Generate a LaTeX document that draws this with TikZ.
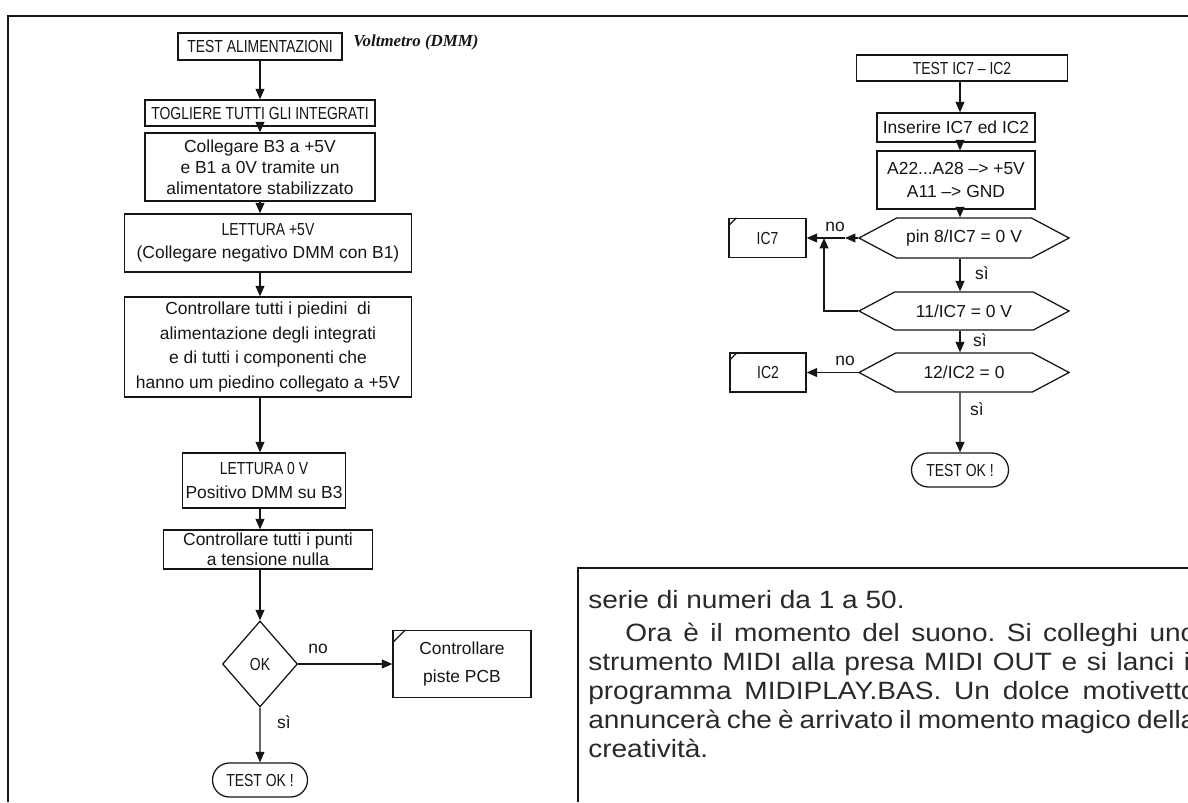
\documentclass[tikz,border=0pt]{standalone}
\usepackage{fontspec}
\newfontfamily\fontSchema{Liberation Sans}
\newfontfamily\fontMaiusc[FakeStretch=0.8]{Liberation Sans}
\newfontfamily\fontTesto[FakeStretch=1.12]{Liberation Sans}
\newfontfamily\fontNota{Liberation Serif}
\usetikzlibrary{arrows.meta, positioning, shapes.geometric, shapes.misc,
                shapes.symbols}
\definecolor{inchiostro}{HTML}{161616}
\definecolor{grigioscuro}{HTML}{2A2A2A}
\colorlet{colLinea}{inchiostro}
\colorlet{colTesto}{inchiostro}
\colorlet{colCorpo}{grigioscuro}
\tikzset{
  interlinea/.style={font=\fontSchema\fontsize{12.4}{#1}\selectfont},
  bloccoBase/.style={
    draw=colLinea, line width=0.9pt, rectangle,
    align=center, interlinea=15, text=colTesto, inner sep=2pt
  },
  bloccoScheda/.style={bloccoBase},
  bloccoDecisione/.style={bloccoBase, diamond, inner sep=0pt},
  bloccoTest/.style={bloccoBase, signal, signal to=west and east,
    signal pointer angle=56, inner sep=0pt},
  bloccoFine/.style={bloccoBase, rounded rectangle, inner sep=0pt},
  freccia/.style={-{Triangle[length=2.6mm, width=2.2mm]}, line width=0.9pt, colLinea},
  linea/.style={line width=0.9pt, colLinea},
  cornice/.style={line width=1.3pt, colLinea},
  etichetta/.style={interlinea=15, text=colTesto, inner sep=1pt},
  rigaTesto/.style={anchor=base west, inner sep=0pt, text=colCorpo,
    font=\fontTesto\fontsize{17.8}{20}\selectfont\frenchspacing},
}

\begin{document}
\begin{tikzpicture}[x=0.025cm, y=-0.025cm]
    \useasboundingbox (0,0) rectangle (1188,802);
    \fill[white] (0,0) rectangle (1188,802);
    \draw[cornice] (8,802) -- (8,16) -- (1188,16);
    \draw[cornice] (578,802) -- (578,568) -- (1188,568);

    \node[bloccoBase, minimum width=4.1cm, minimum height=0.675cm] (alim) at (260,46.5) {\fontMaiusc TEST ALIMENTAZIONI};
    \node[anchor=west, inner sep=0pt, text=colTesto, font=\fontNota\bfseries\itshape\fontsize{12}{13}\selectfont] (strumento) at (353,42) {Voltmetro (DMM)};
    \node[bloccoBase, minimum width=5.75cm, minimum height=0.65cm] (togliere) at (260,113) {\fontMaiusc TOGLIERE TUTTI GLI INTEGRATI};
    \node[bloccoBase, minimum width=5.75cm, minimum height=1.7cm] (collegare) at (260,167) {Collegare B3 a +5V\\ e B1 a 0V tramite un\\ alimentatore stabilizzato};
    \node[bloccoBase, minimum width=7.175cm, minimum height=1.45cm, interlinea=16] (lettura5) at (268,243) {{\fontMaiusc LETTURA +5V}\\ (Collegare negativo DMM con B1)};
    \node[bloccoBase, minimum width=7.175cm, minimum height=2.5cm, interlinea=17.5] (piedini) at (268,347) {Controllare tutti i piedini \ di\\ alimentazione degli integrati\\ e di tutti i componenti che\\ hanno um piedino collegato a +5V};
    \node[bloccoBase, minimum width=4.05cm, minimum height=1.375cm, interlinea=17] (lettura0) at (264,480.5) {{\fontMaiusc LETTURA 0 V}\\ Positivo DMM su B3};
    \node[bloccoBase, minimum width=5.225cm, minimum height=0.975cm, interlinea=14] (punti) at (268,549.5) {Controllare tutti i punti\\ a tensione nulla};
    \node[bloccoDecisione, minimum width=1.875cm, minimum height=2.15cm] (ok) at (260,664) {\fontMaiusc OK};
    \node[bloccoScheda, minimum width=3.45cm, minimum height=1.675cm, interlinea=20] (pcb) at (462,664) {Controllare\\ piste PCB};
    \node[bloccoFine, minimum width=2.375cm, minimum height=0.85cm] (fineSx) at (260,780) {\fontMaiusc TEST OK !};
    \node[etichetta] (noSx) at (318,649) {no};
    \node[etichetta] (siSx) at (284,722) {sì};

    \draw[freccia] (alim) -- (togliere);
    \draw[freccia] (togliere) -- (collegare);
    \draw[freccia] (collegare) -- (lettura5.north -| collegare);
    \draw[freccia] (lettura5.south -| alim) -- (piedini.north -| alim);
    \draw[freccia] (piedini.south -| alim) -- (lettura0.north -| alim);
    \draw[freccia] (lettura0.south -| alim) -- (punti.north -| alim);
    \draw[freccia] (punti.south -| alim) -- (ok);
    \draw[freccia] (ok) -- (pcb);
    \draw[freccia] (ok) -- (fineSx);

    \coordinate (asseDx) at (960,0);
    \node[bloccoBase, minimum width=5.275cm, minimum height=0.65cm] (testIC) at (962,68) {\fontMaiusc TEST IC7 – IC2};
    \node[bloccoBase, minimum width=3.95cm, minimum height=0.725cm] (inserire) at (956,127.5) {Inserire IC7 ed IC2};
    \node[bloccoBase, minimum width=3.95cm, minimum height=1.45cm, interlinea=16] (a22) at (956,180) {A22...A28 –> +5V\\ A11 –> GND};
    \node[bloccoTest, minimum width=5.25cm, minimum height=1cm] (hex1) at (964,238) {pin 8/IC7 = 0 V};
    \node[bloccoTest, minimum width=5.25cm, minimum height=0.95cm] (hex2) at (964,311) {11/IC7 = 0 V};
    \node[bloccoTest, minimum width=5.25cm, minimum height=0.975cm] (hex3) at (964,372.5) {12/IC2 = 0};
    \node[bloccoScheda, minimum width=1.925cm, minimum height=0.975cm] (ic7) at (767.5,238) {\fontMaiusc IC7};
    \node[bloccoScheda, minimum width=1.9cm, minimum height=0.975cm] (ic2) at (768,372.5) {\fontMaiusc IC2};
    \node[bloccoFine, minimum width=2.425cm, minimum height=0.85cm] (fineDx) at (960,470) {\fontMaiusc TEST OK !};
    \node[etichetta] (noA) at (835,227) {no};
    \node[etichetta] (noB) at (845,361) {no};
    \node[etichetta] (siA) at (982,273) {sì};
    \node[etichetta] (siB) at (980,340) {sì};
    \node[etichetta] (siC) at (977,409) {sì};
    \coordinate (puntaNo) at (845,238);
    \coordinate (ritorno) at (824,238);

    \draw[freccia] (testIC.south -| asseDx) -- (inserire.north -| asseDx);
    \draw[freccia] (inserire.south -| asseDx) -- (a22.north -| asseDx);
    \draw[freccia] (a22.south -| asseDx) -- (hex1.north -| asseDx);
    \draw[freccia] (hex1.south -| asseDx) -- (hex2.north -| asseDx);
    \draw[freccia] (hex2.south -| asseDx) -- (hex3.north -| asseDx);
    \draw[freccia] (hex3.south -| asseDx) -- (fineDx);
    \draw[freccia] (hex1.west) -- (puntaNo);
    \draw[freccia] (puntaNo) -- (ic7.east);
    \draw[freccia] (hex2.west) -| (ritorno);
    \draw[freccia] (hex3.west) -- (ic2.east);

    \foreach \n/\d in {ic7/8, ic2/8, pcb/13}
      \draw[linea] (\n.north west) ++(0,\d) -- ++(\d,-\d);

    \begin{scope}
      \clip (578,568) rectangle (1188,802);
      \node[rigaTesto] (riga1) at (588,608) {serie di numeri da 1 a 50.};
      \node[rigaTesto] (riga2) at (625,641) {\makebox[14.275cm][s]{Ora è il momento del suono. Si colleghi uno}};
      \node[rigaTesto] (riga3) at (588,670) {\makebox[15.2cm][s]{strumento MIDI alla presa MIDI OUT e si lanci il}};
      \node[rigaTesto] (riga4) at (588,699) {\makebox[15.2cm][s]{programma MIDIPLAY.BAS. Un dolce motivetto}};
      \node[rigaTesto] (riga5) at (588,728) {\makebox[15.2cm][s]{annuncerà che è arrivato il momento magico della}};
      \node[rigaTesto] (riga6) at (588,757) {creatività.};
    \end{scope}
  \end{tikzpicture}
\end{document}
